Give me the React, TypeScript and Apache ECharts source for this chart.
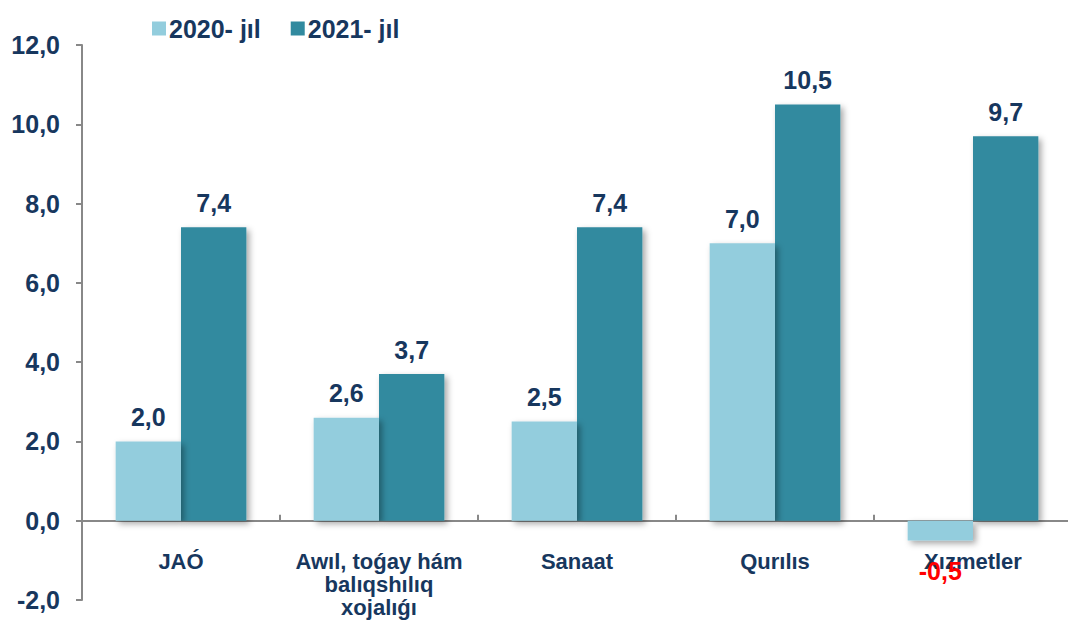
import React, { useEffect, useRef } from "react";
import * as echarts from "echarts";

const categories = ["JAÓ", "Awıl, toǵay hám\nbalıqshılıq\nxojalıǵı", "Sanaat", "Qurılıs", "Xızmetler"];
const series2020 = [2.0, 2.6, 2.5, 7.0, -0.5];
const series2021 = [7.4, 3.7, 7.4, 10.5, 9.7];
const seriesNames = ["2020- jıl", "2021- jıl"];

const NAVY = "#17375E";
const FONT = "'Liberation Sans', Arial, sans-serif";
const fmt = (v: number) => v.toFixed(1).replace(".", ",");

export default function App() {
  const ref = useRef<HTMLDivElement>(null);
  useEffect(() => {
    const chart = echarts.init(ref.current!, undefined, { renderer: "svg" });
    const shadow = {
      shadowColor: "rgba(0,0,0,0.35)",
      shadowBlur: 6,
      shadowOffsetX: 3,
      shadowOffsetY: 3,
    };
    const valueLabel = {
      show: true,
      position: "top",
      distance: 12,
      color: NAVY,
      fontSize: 25,
      fontWeight: "bold",
      fontFamily: FONT,
      formatter: (p: any) => fmt(p.value),
    };
    chart.setOption({
      animation: false,
      textStyle: { fontFamily: FONT },
      legend: {
        left: 147,
        top: 11,
        itemWidth: 14,
        itemHeight: 14,
        itemGap: 30,
        icon: "rect",
        textStyle: { fontSize: 25, fontWeight: "bold", color: NAVY, fontFamily: FONT, padding: [0, 0, 0, -2] },
        data: seriesNames,
      },
      grid: { left: 82, top: 45, width: 990, height: 555, containLabel: false, outerBoundsMode: "none" },
      xAxis: {
        type: "category",
        data: categories,
        axisLine: { onZero: true, lineStyle: { color: "#888888", width: 2 } },
        axisTick: { show: true, inside: true, length: 6, lineStyle: { color: "#888888", width: 2 } },
        axisLabel: {
          color: NAVY,
          fontSize: 22,
          fontWeight: "bold",
          fontFamily: FONT,
          lineHeight: 23,
          margin: -50,
          interval: 0,
        },
      },
      yAxis: {
        type: "value",
        min: -2,
        max: 12,
        interval: 2,
        splitLine: { show: false },
        axisLine: { show: true, lineStyle: { color: "#888888", width: 2 } },
        axisTick: { show: true, length: 6, lineStyle: { color: "#888888", width: 2 } },
        axisLabel: {
          color: NAVY,
          fontSize: 25,
          fontWeight: "bold",
          fontFamily: FONT,
          margin: 22,
          formatter: (v: number) => fmt(v),
        },
      },
      series: [
        {
          name: seriesNames[0],
          type: "bar",
          data: series2020.map((v) =>
            v < 0
              ? { value: v, label: { position: "bottom", distance: 18, color: "#FF0000" } }
              : v
          ),
          barWidth: "33%",
          barGap: "0%",
          z: 3,
          itemStyle: { color: "#93CDDD", ...shadow },
          label: valueLabel,
        },
        {
          name: seriesNames[1],
          type: "bar",
          data: series2021,
          barWidth: "33%",
          barGap: "0%",
          itemStyle: { color: "#318A9F", ...shadow },
          label: valueLabel,
        },
      ],
    });
    return () => chart.dispose();
  }, []);
  return (
    <div
      ref={ref}
      style={{ position: "absolute", left: 0, top: 0, width: 1068, height: 625, overflow: "hidden", background: "#fff" }}
    />
  );
}
